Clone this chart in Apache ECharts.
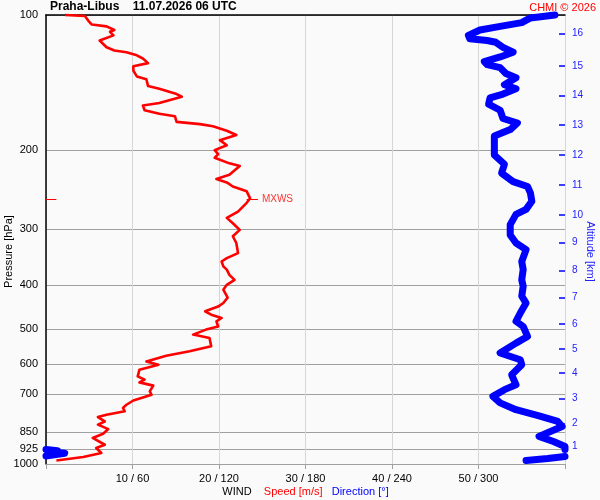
<!DOCTYPE html>
<html>
<head>
<meta charset="utf-8">
<script src="https://cdn.jsdelivr.net/npm/echarts@6/dist/echarts.min.js"></script>
<style>
html,body{margin:0;padding:0;background:#fafafa;}
#chart{width:600px;height:500px;}
</style>
</head>
<body>
<div id="chart"></div>
<script>
// ---- data ----
var pressureTicks = [100, 200, 300, 400, 500, 600, 700, 850, 925, 1000];
var speedTicks = [10, 20, 30, 40, 50];
var altitudeKm = [1, 2, 3, 4, 5, 6, 7, 8, 9, 10, 11, 12, 13, 14, 15, 16];
var altitudePressure = [914, 812, 715, 627, 554, 488, 426, 371, 321, 279, 239, 205, 176, 151, 130, 110];

var speedPressure = [100,100.5,103,105,106,108,109,111,114,115,118,120,121,123,125,128,130,133,137,139,
  144,146,150,152,157,159,163,166,168,173,175,177,181,185,190,195,200,204,208,214,
  217,227,232,236,241,247,256,262,274,283,291,301,311,322,339,348,354,363,369,379,
  389,399,409,426,438,446,457,465,473,481,494,502,515,524,547,561,574,591,601,617,
  638,649,658,669,689,701,722,738,750,763,777,786,804,817,836,856,875,906,921,945,965,982];
var speedValues = [2.2,4.5,4.9,5.3,7.0,7.9,7.4,7.8,6.2,6.0,7.0,7.9,9.3,10.5,11.2,11.8,10.1,10.1,10.5,11.6,
  11.8,13.1,15.1,15.7,13.1,11.2,11.4,13.1,14.9,15.1,17.8,19.3,20.9,22.0,20.1,20.9,19.5,19.9,19.5,21.2,
  22.4,21.2,19.7,20.9,21.6,23.2,23.6,23.2,22.2,20.9,21.6,22.4,21.6,22.0,22.2,20.9,20.3,20.5,20.9,21.2,
  21.8,20.9,20.5,21.0,20.5,19.9,18.4,19.1,20.3,19.7,19.9,18.5,17.0,18.9,19.1,16.6,13.9,11.6,13.0,10.8,
  10.6,11.4,10.8,12.4,12.0,12.2,10.1,9.3,8.9,9.1,7.0,6.0,6.8,6.0,7.2,6.6,5.4,6.8,5.8,6.4,4.3,1.2];

var dirPressure = [100,101.5,104,106,108,111,113,114,115,118,121,124,127,129,131,135,138,143,146,150,
  153,158,163,170,174,180,186,196,205,215,225,235,241,249,260,271,278,293,309,322,
  333,354,369,389,402,423,438,461,481,494,520,538,566,586,601,633,666,683,707,731,
  757,781,804,825,868,891,914,928];
var dirValues = [353,336,330,315,301,293,294,306,312,317,324,315,304,306,315,319,326,318,326,317,
  308,307,315,317,327,322,311,311,311,318,316,324,334,336,337,333,326,322,322,326,
  333,330,331,330,331,330,333,329,326,331,334,326,315,329,330,323,326,318,310,315,
  326,342,355,358,342,352,360,360];
var dirBlobPressure = [928, 934, 940, 946, 952, 960];
var dirBlobValues = [0, 8, 6, 13, 8, 0];
var dirLowPressure = [962, 972, 982];
var dirLowValues = [360, 348, 333];

var mxwsPressure = 257;
var mxwsSpeed = 23.6;

// ---- build ----
function pairs(xs, ys) { return xs.map(function (x, i) { return [x, ys[i]]; }); }
var FONT = 'Liberation Sans, Arial, sans-serif';
var BLUE = '#0000ff';

var chart = echarts.init(document.getElementById('chart'), null, {renderer: 'canvas'});
var dirLine = {color: BLUE, width: 7, cap: 'round', join: 'round'};

chart.setOption({
  animation: false,
  backgroundColor: '#fafafa',
  textStyle: {fontFamily: FONT},
  title: [
    {text: 'Praha-Libus    11.07.2026 06 UTC', left: 50, top: 1, padding: 0,
     textStyle: {fontSize: 12, fontWeight: 'bold', color: '#000', fontFamily: FONT}},
    {text: 'CHMI © 2026', right: 4, top: 2, padding: 0,
     textStyle: {fontSize: 11, fontWeight: 'normal', color: '#ff0000', fontFamily: FONT}}
  ],
  grid: {left: 46, right: 35, top: 15, bottom: 36, containLabel: false, outerBoundsMode: 'none'},
  xAxis: [
    {type: 'value', min: 0, max: 60, interval: 10, position: 'bottom',
     axisLine: {show: false, onZero: false},
     axisTick: {show: true, length: 5, lineStyle: {color: '#a0a0a0'}},
     axisLabel: {color: '#000', fontSize: 11, margin: 9, fontFamily: FONT,
       formatter: function (v) { return speedTicks.indexOf(v) >= 0 ? v + ' / ' + (v * 6) : ''; }},
     splitLine: {show: true, lineStyle: {color: '#d6d6d6', width: 1}},
     name: '{a|WIND}    {b|Speed [m/s]}   {c|Direction [°]}',
     nameLocation: 'middle', nameGap: 22, nameMoveOverlap: false,
     nameTextStyle: {fontSize: 11, fontFamily: FONT,
       rich: {a: {color: '#000', fontSize: 11, fontFamily: FONT},
              b: {color: '#ff0000', fontSize: 11, fontFamily: FONT},
              c: {color: BLUE, fontSize: 11, fontFamily: FONT}}}},
    {type: 'value', min: 0, max: 360, position: 'top',
     axisLine: {show: true, onZero: false, lineStyle: {color: '#000', width: 1.5}},
     axisTick: {show: false}, axisLabel: {show: false}, splitLine: {show: false}}
  ],
  yAxis: [
    {type: 'log', logBase: 10, min: 100, max: 1000, inverse: true, position: 'left',
     axisLine: {show: true, onZero: false, lineStyle: {color: '#000', width: 1.5}},
     axisTick: {show: false, customValues: pressureTicks},
     axisLabel: {customValues: pressureTicks, color: '#000', fontSize: 11, margin: 8, fontFamily: FONT,
       formatter: function (v) { return String(Math.round(v)); }},
     splitLine: {show: true, lineStyle: {color: '#a0a0a0', width: 1}},
     name: 'Pressure [hPa]', nameLocation: 'middle', nameGap: 32, nameRotate: 90, nameMoveOverlap: false,
     nameTextStyle: {color: '#000', fontSize: 11, fontFamily: FONT, padding: [0, 24, 0, 0]}},
    {type: 'log', logBase: 10, min: 100, max: 1000, inverse: true, position: 'right',
     axisLine: {show: false, onZero: false},
     axisTick: {show: true, inside: true, length: 6, customValues: altitudePressure,
       lineStyle: {color: BLUE, width: 1.5}},
     axisLabel: {customValues: altitudePressure, color: '#2222ff', fontSize: 10, margin: 7, fontFamily: FONT,
       formatter: function (v) {
         var best = 0, bd = Infinity;
         for (var i = 0; i < altitudePressure.length; i++) {
           var d = Math.abs(altitudePressure[i] - v);
           if (d < bd) { bd = d; best = i; }
         }
         return String(altitudeKm[best]);
       }},
     splitLine: {show: false},
     name: 'Altitude [km]', nameLocation: 'middle', nameGap: 20, nameRotate: -90, nameMoveOverlap: false,
     nameTextStyle: {color: '#2222ff', fontSize: 11, fontFamily: FONT, padding: [0, 0, 0, 24]}}
  ],
  series: [
    {name: 'Direction', type: 'line', xAxisIndex: 1, yAxisIndex: 0, clip: false,
     showSymbol: false, symbol: 'none', lineStyle: dirLine, z: 3,
     data: pairs(dirValues, dirPressure)},
    {name: 'DirectionBlob', type: 'line', xAxisIndex: 1, yAxisIndex: 0, clip: false,
     showSymbol: false, symbol: 'none', lineStyle: dirLine, z: 3,
     data: pairs(dirBlobValues, dirBlobPressure)},
    {name: 'DirectionLow', type: 'line', xAxisIndex: 1, yAxisIndex: 0, clip: false,
     showSymbol: false, symbol: 'none', lineStyle: dirLine, z: 3,
     data: pairs(dirLowValues, dirLowPressure)},
    {name: 'Speed', type: 'line', xAxisIndex: 0, yAxisIndex: 0, clip: false,
     showSymbol: false, symbol: 'none', z: 4,
     lineStyle: {color: '#ff0000', width: 2.6, join: 'round'},
     data: pairs(speedValues, speedPressure),
     markLine: {
       silent: true, symbol: ['none', 'none'], animation: false,
       lineStyle: {color: '#ff0000', width: 1, type: 'solid'},
       label: {show: false},
       emphasis: {disabled: true},
       data: [
         [{coord: [0, mxwsPressure]}, {coord: [1.2, mxwsPressure]}],
         [{coord: [mxwsSpeed - 0.4, mxwsPressure],
           label: {show: true, position: 'end', formatter: 'MXWS', color: '#ff3333', fontSize: 10,
                   fontFamily: FONT, distance: 4}},
          {coord: [mxwsSpeed + 0.9, mxwsPressure]}],
         [{coord: [58.8, mxwsPressure]}, {coord: [60.3, mxwsPressure]}]
       ]
     }}
  ]
});
</script>
</body>
</html>
